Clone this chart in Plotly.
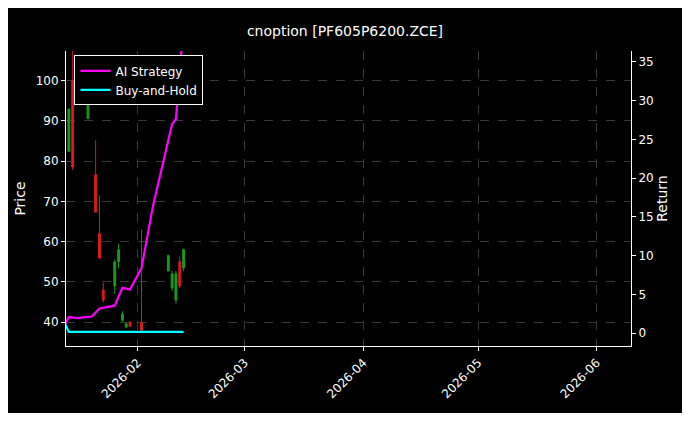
import plotly.graph_objects as go

dates = ["2026-01-14","2026-01-15","2026-01-19","2026-01-21","2026-01-22","2026-01-23",
         "2026-01-26","2026-01-27","2026-01-28","2026-01-29","2026-01-30","2026-02-02",
         "2026-02-09","2026-02-10","2026-02-11","2026-02-12","2026-02-13"]
opn   = [82.4, 100.0, 90.5, 76.6, 62.0, 48.0, 49.0, 55.0, 40.5, 38.8, 40.0, 40.0, 52.7, 48.5, 45.5, 55.0, 53.5]
high  = [92.9, 112.0, 98.3, 85.1, 71.5, 49.8, 55.6, 59.5, 42.7, 39.8, 40.2, 63.0, 56.8, 52.7, 52.7, 56.3, 58.3]
low   = [82.4, 77.8, 90.5, 67.3, 55.9, 44.9, 47.0, 53.4, 40.0, 38.5, 38.8, 37.5, 52.7, 47.8, 44.6, 48.5, 52.7]
close = [92.9, 78.5, 98.0, 67.3, 55.9, 45.5, 55.0, 58.0, 42.0, 39.6, 39.0, 38.0, 56.5, 52.0, 52.0, 49.0, 58.0]

ret_dates = ["2026-01-13","2026-01-14","2026-01-16","2026-01-20","2026-01-22","2026-01-26",
             "2026-01-28","2026-01-30","2026-02-02","2026-02-05","2026-02-10","2026-02-11","2026-02-13"]
ai_ret = [1.2, 2.1, 1.95, 2.15, 3.2, 3.55, 5.85, 5.65, 8.4, 16.4, 27.0, 27.6, 40.0]
bh_dates = ["2026-01-13","2026-01-14","2026-02-13"]
bh_ret = [1.2, 0.17, 0.17]

fig = go.Figure()
fig.add_trace(go.Candlestick(x=dates, open=opn, high=high, low=low, close=close,
    increasing=dict(line=dict(color="#1a9a1a", width=1), fillcolor="#1a9a1a"),
    decreasing=dict(line=dict(color="#dd1a1a", width=1), fillcolor="#dd1a1a"),
    whiskerwidth=0, showlegend=False, xaxis="x", yaxis="y"))
fig.add_trace(go.Scatter(x=ret_dates, y=ai_ret, mode="lines", name="AI Strategy",
    line=dict(color="#ff00ff", width=2.2), yaxis="y2"))
fig.add_trace(go.Scatter(x=bh_dates, y=bh_ret, mode="lines", name="Buy-and-Hold",
    line=dict(color="#00ffff", width=2.2), yaxis="y2"))

ax = dict(showline=True, linecolor="white", mirror=False, ticks="outside", tickcolor="white",
          ticklen=4, tickfont=dict(color="white", size=12), zeroline=False)
grid = dict(showgrid=True, gridcolor="#3a3a3a", griddash="dash", gridwidth=0.6)
fig.update_layout(
    width=674, height=405, paper_bgcolor="black", plot_bgcolor="black",
    font=dict(family="DejaVu Sans", color="white", size=12),
    margin=dict(l=58, r=51, t=43, b=62),
    title=dict(text="cnoption [PF605P6200.ZCE]", x=0.5, xanchor="center", y=0.955, font=dict(size=14)),
    xaxis=dict(**ax, **grid, type="date", range=["2026-01-13 06:00", "2026-06-10"],
               rangeslider=dict(visible=False), tickangle=-45, tickformat="%Y-%m",
               dtick="M1", tick0="2026-02-01"),
    yaxis=dict(**ax, **grid, title=dict(text="Price", font=dict(color="white"), standoff=6), range=[34.1, 107.3],
               tickvals=[40,50,60,70,80,90,100]),
    yaxis2=dict(**ax, title=dict(text="Return", font=dict(color="white"), standoff=4), overlaying="y", side="right",
                range=[-1.65, 36.4], tickvals=[0,5,10,15,20,25,30,35], showgrid=False),
    legend=dict(x=0.015, y=0.985, xanchor="left", yanchor="top", bgcolor="black",
                bordercolor="white", borderwidth=1, font=dict(color="white", size=12)),
)
fig.write_html("out.html")
